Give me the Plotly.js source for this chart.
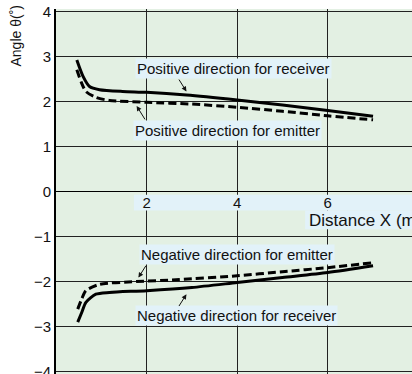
<!DOCTYPE html>
<html>
<head>
<meta charset="utf-8">
<script src="https://cdn.plot.ly/plotly-3.0.1.min.js"></script>
<style>html,body{margin:0;padding:0;overflow:hidden;background:#fff;}#chart{width:412px;height:374px;}</style>
</head>
<body>
<div id="chart"></div>
<script>
// Data
const posRecvX = [0.46, 0.6, 0.74, 0.96, 1.47, 2.0, 2.88, 4.0, 5.0, 6.0, 7.0];
const posRecvY = [2.92, 2.55, 2.33, 2.26, 2.22, 2.2, 2.14, 2.03, 1.92, 1.80, 1.67];
const posEmitX = [0.46, 0.56, 0.66, 0.88, 1.18, 2.0, 3.0, 4.0, 5.0, 6.0, 7.0];
const posEmitY = [2.7, 2.42, 2.22, 2.09, 2.02, 1.98, 1.94, 1.87, 1.78, 1.68, 1.59];
const negRecvX = [0.48, 0.57, 0.66, 0.88, 1.18, 2.0, 3.0, 4.0, 5.0, 6.0, 7.0];
const negRecvY = [-2.9, -2.68, -2.46, -2.28, -2.24, -2.2, -2.13, -2.02, -1.91, -1.80, -1.65];
const negEmitX = [0.48, 0.57, 0.66, 0.96, 1.77, 2.65, 4.0, 5.0, 6.0, 7.0];
const negEmitY = [-2.61, -2.38, -2.2, -2.06, -2.0, -1.96, -1.87, -1.78, -1.69, -1.58];

const xTickVals = [2, 4, 6, 8];
const xTickText = ['2', '4', '6', '8'];
const yTickVals = [-4, -3, -2, -1, 0, 1, 2, 3, 4];
const yTickText = ['\u22124', '\u22123', '\u22122', '\u22121', '0', '1', '2', '3', '4'];

const labelText = ['Positive direction for receiver', 'Positive direction for emitter',
                   'Negative direction for emitter', 'Negative direction for receiver'];
const labelX = [3.91, 3.79, 3.99, 3.99];
const labelY = [2.74, 1.35, -1.39, -2.76];
const arrowTipX = [2.88, 1.78, 1.82, 2.88];
const arrowTipY = [2.22, 1.9, -1.91, -2.28];
const arrowAx = [-8.4, 9.3, 8.4, -8.4];
const arrowAy = [-13.4, 15, -13.3, 13.3];

const xTitle = 'Distance X (m)';
const yTitle = 'Angle \u03b8(\u02da)';

const FONT = 'Liberation Sans, Arial, sans-serif';
const solid = {color: '#000', width: 3, shape: 'spline', smoothing: 0.7};
const dashed = {color: '#000', width: 3, dash: '8px,4px', shape: 'spline', smoothing: 0.7};

const traces = [
  {x: posRecvX, y: posRecvY, mode: 'lines', line: solid, name: labelText[0]},
  {x: posEmitX, y: posEmitY, mode: 'lines', line: dashed, name: labelText[1]},
  {x: negEmitX, y: negEmitY, mode: 'lines', line: dashed, name: labelText[2]},
  {x: negRecvX, y: negRecvY, mode: 'lines', line: solid, name: labelText[3]}
];

const annotations = [];
labelText.forEach((t, i) => {
  annotations.push({x: labelX[i], y: labelY[i], xref: 'x', yref: 'y', text: t, showarrow: false,
    bgcolor: '#e2f2f9', borderpad: 1, font: {family: FONT, size: 15, color: '#111'}});
  annotations.push({x: arrowTipX[i], y: arrowTipY[i], xref: 'x', yref: 'y', text: '', showarrow: true,
    ax: arrowAx[i], ay: arrowAy[i], arrowhead: 2, arrowsize: 1, arrowwidth: 1, arrowcolor: '#111', standoff: 0});
});
annotations.push({x: 5.55, y: -0.64, xref: 'x', yref: 'y', xanchor: 'left', yanchor: 'middle', text: xTitle, showarrow: false,
  font: {family: FONT, size: 17, color: '#111'}});
annotations.push({x: -0.112, y: 0.925, xref: 'paper', yref: 'paper', xanchor: 'center', yanchor: 'middle',
  text: yTitle, textangle: -90, showarrow: false, font: {family: FONT, size: 14, color: '#111'}});

const layout = {
  width: 412, height: 374,
  margin: {l: 56, r: 0, t: 9, b: 0, pad: 0},
  paper_bgcolor: '#ffffff',
  plot_bgcolor: '#e3f0e3',
  showlegend: false,
  font: {family: FONT, size: 15, color: '#111'},
  xaxis: {
    range: [0, 7.86], tickvals: xTickVals, ticktext: xTickText,
    anchor: 'free', position: 0.5, showline: false, ticks: '',
    showgrid: true, gridcolor: '#222', gridwidth: 1,
    zeroline: false, tickfont: {family: FONT, size: 15, color: '#111'}
  },
  yaxis: {
    range: [-4.05, 4.05], tickvals: yTickVals, ticktext: yTickText,
    showline: true, linecolor: '#000', linewidth: 2, ticks: '',
    ticklabeloverflow: 'allow',
    showgrid: true, gridcolor: '#222', gridwidth: 1,
    zeroline: true, zerolinecolor: '#000', zerolinewidth: 1.5,
    tickfont: {family: FONT, size: 15, color: '#111'}
  },
  shapes: [
    {type: 'rect', xref: 'x', yref: 'y', x0: 1.72, x1: 8.5, y0: -0.07, y1: -0.42,
     fillcolor: '#e2f2f9', line: {width: 0}, layer: 'between'},
    {type: 'rect', xref: 'x', yref: 'y', x0: 5.5, x1: 8.5, y0: -0.42, y1: -0.84,
     fillcolor: '#e2f2f9', line: {width: 0}, layer: 'between'}
  ],
  annotations: annotations
};

Plotly.newPlot('chart', traces, layout, {staticPlot: true, displayModeBar: false});
</script>
</body>
</html>
